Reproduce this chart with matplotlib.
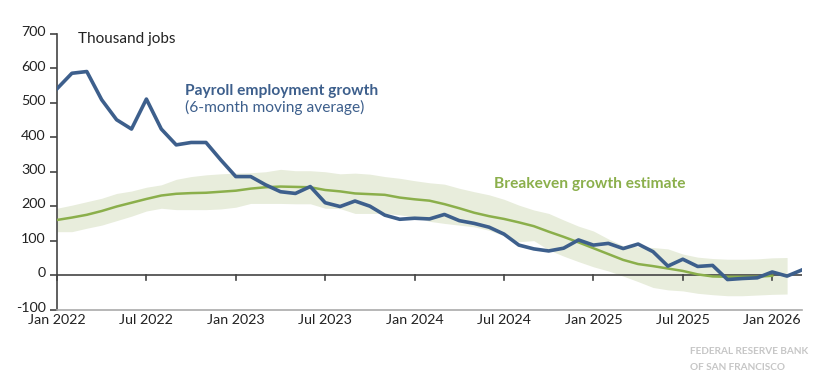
import matplotlib
matplotlib.use("Agg")
import matplotlib.pyplot as plt
import matplotlib.transforms as mtransforms
import numpy as np

plt.rcParams['font.family'] = ['Lato', 'DejaVu Sans']

# Month index 0 = Jan 2022
payroll = [541, 586, 591, 509, 451, 424, 511, 424, 378, 385, 385, 334,
           286, 286, 262, 242, 237, 257, 210, 199, 215, 200, 174, 162,
           165, 163, 176, 158, 150, 139, 119, 87, 76, 70, 78, 102,
           87, 92, 77, 90, 68, 26, 46, 25, 28, -13, -10, -8,
           9, -3, 15]
breakeven = [160, 167, 175, 186, 199, 210, 221, 231, 236, 238, 239, 242,
             245, 251, 255, 257, 256, 255, 247, 243, 237, 235, 233, 225,
             220, 216, 206, 194, 181, 171, 163, 153, 142, 126, 111, 95,
             78, 61, 44, 32, 26, 19, 12, 2, -4, -5, -5, -5,
             -2]
band_upper = [194, 203, 213, 223, 237, 244, 255, 262, 278, 286, 291, 294,
              296, 297, 300, 307, 303, 303, 300, 294, 296, 293, 286, 281,
              274, 268, 264, 252, 242, 233, 220, 203, 189, 179, 160, 142,
              128, 105, 85, 82, 80, 76, 61, 52, 48, 46, 46, 47,
              50, 51]
band_lower = [126, 126, 136, 145, 158, 171, 186, 194, 190, 190, 190, 192,
              197, 208, 208, 208, 207, 207, 194, 193, 179, 179, 179, 175,
              168, 156, 150, 145, 140, 130, 114, 97, 100, 73, 55, 39,
              24, 12, -3, -19, -36, -43, -46, -53, -57, -60, -60, -58,
              -56, -55]
tick_pos = [0, 6, 12, 18, 24, 30, 36, 42, 48]
tick_labels = ['Jan 2022', 'Jul 2022', 'Jan 2023', 'Jul 2023', 'Jan 2024',
               'Jul 2024', 'Jan 2025', 'Jul 2025', 'Jan 2026']
y_ticks = [-100, 0, 100, 200, 300, 400, 500, 600, 700]

blue = '#3D5F8C'
green = '#8BAF4B'
band = '#E8EDDC'

fig = plt.figure(figsize=(8.26, 3.9), dpi=100)
ax = fig.add_axes([57/826, 1-309.5/390, (802-57)/826, (309.5-34)/390])

x_p = np.arange(len(payroll))
x_b = np.arange(len(breakeven))
x_band = np.arange(len(band_upper))

ax.fill_between(x_band, band_lower, band_upper, color=band, lw=0, zorder=1)
ax.axhline(0, color='#444444', lw=1.2, zorder=2)
ax.plot(x_b, breakeven, color=green, lw=1.8, zorder=3)
ax.plot(x_p, payroll, color=blue, lw=2.6, zorder=4, solid_joinstyle='round')

ax.set_xlim(0, len(payroll) - 1)
ax.set_ylim(-100, 700)
ax.set_yticks(y_ticks)
ax.set_yticklabels([str(v) for v in y_ticks])
ax.set_xticks([])

for s in ['top', 'right']:
    ax.spines[s].set_visible(False)
ax.spines['left'].set_color('#444444')
ax.spines['left'].set_linewidth(1.2)
ax.spines['bottom'].set_color('#aaaaaa')
ax.spines['bottom'].set_linewidth(1.2)
ax.tick_params(axis='y', length=5, width=1.2, color='#444444', labelsize=10.3,
               pad=3, labelcolor='#222222')
shift = mtransforms.ScaledTranslation(0, 2/72, fig.dpi_scale_trans)
for lbl in ax.get_yticklabels():
    lbl.set_transform(lbl.get_transform() + shift)

# x ticks on zero line
for p, lab in zip(tick_pos, tick_labels):
    ax.plot([p, p], [0, -13], color='#444444', lw=1.2, zorder=2, clip_on=False)
    ax.text(p, -114, lab, ha='center', va='top', fontsize=10.3, color='#222222')

ax.text(0.028, 0.982, 'Thousand jobs', transform=ax.transAxes, fontsize=11,
        color='#222222', va='center', ha='left')
ax.text(8.6, 535, 'Payroll employment growth', fontsize=11.2, fontweight='bold',
        color=blue, va='center', ha='left')
ax.text(8.6, 487, '(6-month moving average)', fontsize=11.2,
        color=blue, va='center', ha='left')
ax.text(29.3, 265, 'Breakeven growth estimate', fontsize=11.2, fontweight='bold',
        color=green, va='center', ha='left')

fig.text(690/826, 1-352/390, 'FEDERAL RESERVE BANK', fontsize=7.2,
         fontweight='bold', color='#c6c6c6', va='center', ha='left')
fig.text(690/826, 1-367/390, 'OF SAN FRANCISCO', fontsize=7.2,
         fontweight='bold', color='#c6c6c6', va='center', ha='left')

fig.savefig('out.png', dpi=100)
